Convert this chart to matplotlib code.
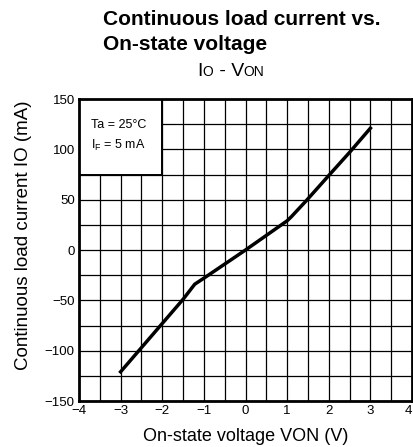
import matplotlib
matplotlib.use("Agg")
import matplotlib.pyplot as plt
from matplotlib.patches import Rectangle
from matplotlib.ticker import MultipleLocator
from matplotlib.offsetbox import TextArea, HPacker, AnnotationBbox

plt.rcParams['font.family'] = ['Liberation Sans', 'DejaVu Sans']

# on-state voltage (V) vs continuous load current (mA)
von = [-3.0, -2.5, -2.0, -1.5, -1.22, -1.0, 0.0, 1.0, 1.1, 1.46, 2.0, 2.5, 3.0]
io = [-121, -97, -73, -49, -34, -28, 0, 29, 33, 49, 74, 97, 121]

xticks = [-4, -3, -2, -1, 0, 1, 2, 3, 4]
yticks = [-150, -100, -50, 0, 50, 100, 150]

fig = plt.figure(figsize=(4.14, 4.47), dpi=100)
fig.set_facecolor('white')
ax = fig.add_axes([0.1908, 0.1029, 0.8044, 0.6756])

ax.set_xlim(-4, 4)
ax.set_ylim(-150, 150)
ax.set_xticks(xticks)
ax.set_yticks(yticks)
ax.xaxis.set_minor_locator(MultipleLocator(0.5))
ax.yaxis.set_minor_locator(MultipleLocator(25))
ax.grid(True, which='both', color='black', linewidth=0.9)
ax.set_axisbelow(True)
ax.tick_params(which='both', length=0, labelsize=9.5, pad=3)
ax.set_xticklabels([str(t).replace('-', '\u2212') for t in xticks])
ax.set_yticklabels([str(t).replace('-', '\u2212') for t in yticks])
ax.get_xticklabels()[-1].set_ha('right')
for s in ax.spines.values():
    s.set_linewidth(2)

# condition box in the upper left corner hides the grid
ax.add_patch(Rectangle((-4, 75), 2, 75, facecolor='white', edgecolor='black',
                       linewidth=1.4, zorder=2))
ax.text(-3.05, 124, 'Ta = 25°C', ha='center', va='center', fontsize=9, zorder=3)
ax.text(-3.05, 104, r'I$_{\mathregular{F}}$ = 5 mA', ha='center', va='center',
        fontsize=9, zorder=3)

ax.plot(von, io, color='black', linewidth=2.5, zorder=4)

ax.set_xlabel('On-state voltage VON (V)', fontsize=13)
ax.set_ylabel('Continuous load current IO (mA)', fontsize=13.5)
ax.xaxis.set_label_coords(0.5, -0.119)
ax.xaxis.label.set_va('center')
ax.yaxis.set_label_coords(-0.168, 0.55)
ax.yaxis.label.set_va('center')

fig.text(0.249, 0.977, 'Continuous load current vs.\nOn-state voltage',
         ha='left', va='top', fontsize=15, fontweight='bold', linespacing=1.35)

# subtitle "IO - VON" with small-cap subscripts
parts = [('I', 14), ('O', 10), (' - V', 14), ('ON', 10)]
box = HPacker(children=[TextArea(t, textprops=dict(fontsize=s)) for t, s in parts],
              align='baseline', pad=0, sep=0)
fig.add_artist(AnnotationBbox(box, (0.558, 0.841), xycoords='figure fraction',
                              frameon=False, box_alignment=(0.5, 0.5)))

fig.savefig('out.png', dpi=100)
